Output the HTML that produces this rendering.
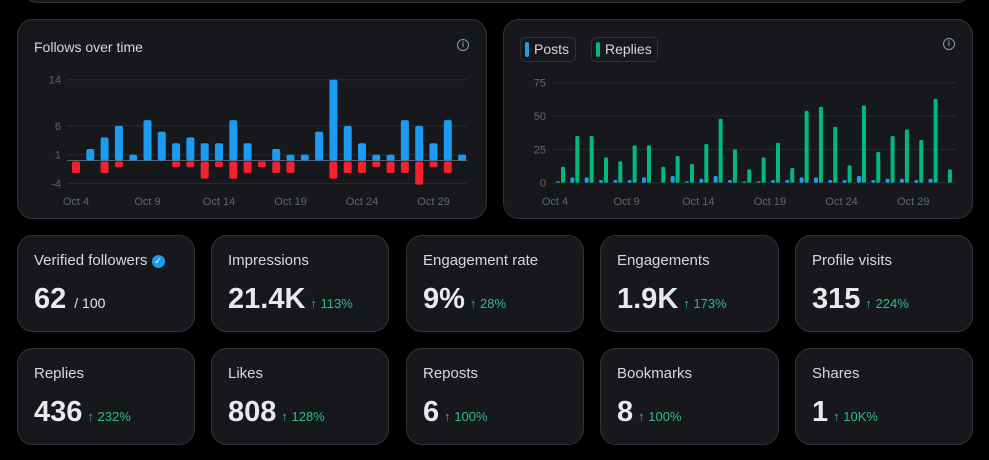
<!DOCTYPE html>
<html><head><meta charset="utf-8"><style>
body{margin:0;width:989px;height:460px;background:#000;font-family:"Liberation Sans",sans-serif;position:relative;overflow:hidden;color:#e7e9ea}
.card{position:absolute;background:#16181c;border:1px solid #2f3336;border-radius:16px;box-sizing:border-box}
.title{position:absolute;left:16px;top:19px;font-size:14px;color:#d6d9db}
.info{position:absolute;width:10px;height:10px;border:1.3px solid #8b98a5;border-radius:50%;font-size:8px;line-height:10px;text-align:center;color:#8b98a5;font-weight:bold}
.stat .lbl{position:absolute;left:16px;top:16px;font-size:15px;color:#d6d9db}
.stat .val{position:absolute;left:16px;top:47px;font-size:29px;font-weight:bold;color:#e7e9ea;white-space:nowrap}
.stat .val small{font-size:13px;font-weight:normal;color:#2dbf7f;margin-left:5px}
.stat .val .of{color:#e7e9ea;font-size:14px;margin-left:8px;font-weight:normal}
.leg{position:absolute;top:17px;height:25px;border:1px solid #2f3336;border-radius:5px;box-sizing:border-box;font-size:14px;line-height:23px;padding-left:13px;color:#d6d9db}
.leg i{position:absolute;left:4px;top:4px;width:4px;height:15px;border-radius:2px}
svg text{font-family:"Liberation Sans",sans-serif;font-size:11px;fill:#62676c}
</style></head><body>
<div class="card" style="left:22px;top:-30px;width:950px;height:33px"></div>

<div class="card" style="left:17px;top:19px;width:470px;height:200px">
<div class="title">Follows over time</div>
<div class="info" style="left:439px;top:19px">i</div>
</div>
<svg id="c1" style="position:absolute;left:0;top:0" width="490" height="220"></svg>

<div class="card" style="left:503px;top:19px;width:470px;height:200px">
<div class="leg" style="left:16px;width:56px"><i style="background:#1d9bf0"></i>Posts</div>
<div class="leg" style="left:87px;width:67px"><i style="background:#00ba7c"></i>Replies</div>
<div class="info" style="left:439px;top:18px">i</div>
</div>
<svg id="c2" style="position:absolute;left:0;top:0" width="989" height="220"></svg>

<div id="stats"></div>
<script>
const days=["Oct 4","Oct 9","Oct 14","Oct 19","Oct 24","Oct 29"];
const follows=[0,2,4,6,1,7,5,3,4,3,3,7,3,0,2,1,1,5,14,6,3,1,1,7,6,3,7,1];
const unfollows=[2,0,2,1,0,0,0,1,1,3,1,3,2,1,2,2,0,0,3,2,2,1,2,2,4,1,2,0];
const yTicks1=[14,6,1,-4];
const posts=[1,4,4,2,2,2,4,0,5,1,3,5,2,1,1,2,2,4,4,2,2,5,2,3,3,2,3,0];
const replies=[12,35,35,19,16,28,28,12,20,14,29,48,25,10,19,30,11,54,57,42,13,58,23,35,40,32,63,10];
const yTicks2=[75,50,25,0];
const NS="http://www.w3.org/2000/svg";
function mk(svg,tag,a,txt){const e=document.createElementNS(NS,tag);for(const k in a)e.setAttribute(k,a[k]);if(txt!==undefined)e.textContent=txt;svg.appendChild(e);return e;}
const s1=document.getElementById('c1');
const x1=i=>76+i*14.3, y1=v=>160.5-v*5.77;
yTicks1.forEach(t=>{const g=mk(s1,'line',{x1:67,x2:467,y1:y1(t),y2:y1(t),stroke:'#2a2d31','stroke-width':1});
const l=mk(s1,'text',{x:61,y:y1(t)+4,'text-anchor':'end'},t);});
mk(s1,'line',{x1:67,x2:467,y1:y1(0),y2:y1(0),stroke:'#5b6066','stroke-width':1});
follows.forEach((v,i)=>{if(!v)return;const r=mk(s1,'rect',{x:x1(i)-4,y:y1(v),width:8,height:y1(0)-y1(v),rx:2,fill:'#1d9bf0'});});
unfollows.forEach((v,i)=>{if(!v)return;const r=mk(s1,'rect',{x:x1(i)-4,y:y1(0)+1,width:8,height:y1(-v)-y1(0),rx:2,fill:'#f4212e'});});
days.forEach((d,k)=>{const t=mk(s1,'text',{x:x1(k*5),y:205,'text-anchor':'middle'},d);});
const s2=document.getElementById('c2');
const x2=i=>555+i*14.33, y2=v=>182.7-v*1.333;
yTicks2.forEach(t=>{const g=mk(s2,'line',{x1:553,x2:955,y1:y2(t),y2:y2(t),stroke:'#2a2d31','stroke-width':1});
const l=mk(s2,'text',{x:546,y:y2(t)+4,'text-anchor':'end'},t);});
posts.forEach((v,i)=>{if(!v)return;const r=mk(s2,'rect',{x:x2(i)+1,y:y2(v),width:4,height:y2(0)-y2(v),rx:1.5,fill:'#1d9bf0'});});
replies.forEach((v,i)=>{const r=mk(s2,'rect',{x:x2(i)+6,y:y2(v),width:4,height:y2(0)-y2(v),rx:1.5,fill:'#00ba7c'});});
days.forEach((d,k)=>{const t=mk(s2,'text',{x:x2(k*5),y:205,'text-anchor':'middle'},d);});
const stats=[["Verified followers","62","","/ 100"],["Impressions","21.4K","113%"],["Engagement rate","9%","28%"],["Engagements","1.9K","173%"],["Profile visits","315","224%"],
["Replies","436","232%"],["Likes","808","128%"],["Reposts","6","100%"],["Bookmarks","8","100%"],["Shares","1","10K%"]];
const xs=[17,211,406,600,795],ws=[178,178,178,179,178];
const box=document.getElementById('stats');
stats.forEach((s,i)=>{const c=document.createElement('div');c.className='card stat';


const col=i%5,row=Math.floor(i/5);c.style.cssText=`left:${xs[col]}px;top:${235+row*113}px;width:${ws[col]}px;height:97px`;
let lbl=s[0];if(i===0)lbl+=' <span style="display:inline-block;width:13px;height:13px;border-radius:50%;background:#1d9bf0;color:#fff;font-size:9px;line-height:13px;text-align:center;vertical-align:1px">✓</span>';
c.innerHTML=`<div class="lbl">${lbl}</div><div class="val">${s[1]}${s[3]?`<span class="of">${s[3]}</span>`:`<small>↑ ${s[2]}</small>`}</div>`;
box.appendChild(c);});
</script>
</body></html>
